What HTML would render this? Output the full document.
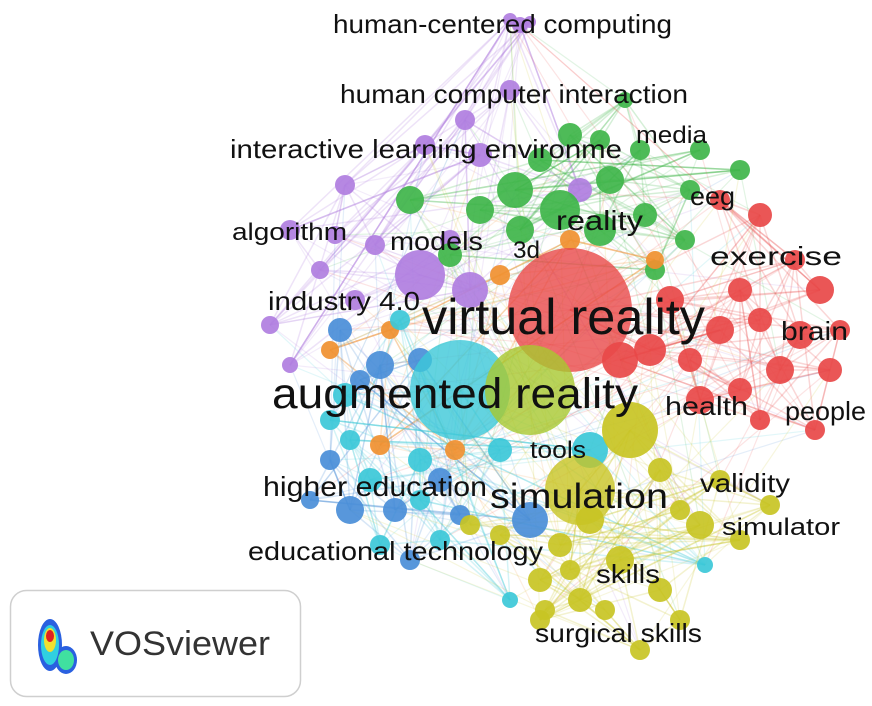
<!DOCTYPE html>
<html><head><meta charset="utf-8"><style>
html,body{margin:0;padding:0;background:#fff;}
svg{display:block;}
text{font-family:"Liberation Sans",sans-serif;fill:#111;}
</style></head><body>
<svg id="s" width="872" height="706" viewBox="0 0 872 706" xmlns="http://www.w3.org/2000/svg">
<g id="edges"></g><g id="nodes"></g>
<g id="labels">
<text x="333" y="33" font-size="26" textLength="339" lengthAdjust="spacingAndGlyphs">human-centered computing</text>
<text x="340" y="103" font-size="26" textLength="348" lengthAdjust="spacingAndGlyphs">human computer interaction</text>
<text x="636" y="143" font-size="24" textLength="71" lengthAdjust="spacingAndGlyphs">media</text>
<text x="230" y="158" font-size="26" textLength="392" lengthAdjust="spacingAndGlyphs">interactive learning environme</text>
<text x="690" y="205" font-size="26" textLength="45" lengthAdjust="spacingAndGlyphs">eeg</text>
<text x="556" y="230" font-size="28" textLength="87" lengthAdjust="spacingAndGlyphs">reality</text>
<text x="232" y="240" font-size="24" textLength="115" lengthAdjust="spacingAndGlyphs">algorithm</text>
<text x="390" y="250" font-size="26" textLength="93" lengthAdjust="spacingAndGlyphs">models</text>
<text x="513" y="258" font-size="24" textLength="27" lengthAdjust="spacingAndGlyphs">3d</text>
<text x="710" y="265" font-size="26" textLength="132" lengthAdjust="spacingAndGlyphs">exercise</text>
<text x="268" y="310" font-size="26" textLength="152" lengthAdjust="spacingAndGlyphs">industry 4.0</text>
<text x="422" y="334" font-size="50" textLength="283" lengthAdjust="spacingAndGlyphs">virtual reality</text>
<text x="781" y="340" font-size="26" textLength="67" lengthAdjust="spacingAndGlyphs">brain</text>
<text x="272" y="408" font-size="43" textLength="366" lengthAdjust="spacingAndGlyphs">augmented reality</text>
<text x="665" y="415" font-size="26" textLength="83" lengthAdjust="spacingAndGlyphs">health</text>
<text x="785" y="420" font-size="26" textLength="81" lengthAdjust="spacingAndGlyphs">people</text>
<text x="530" y="458" font-size="24" textLength="56" lengthAdjust="spacingAndGlyphs">tools</text>
<text x="263" y="496" font-size="28" textLength="224" lengthAdjust="spacingAndGlyphs">higher education</text>
<text x="490" y="508" font-size="35" textLength="178" lengthAdjust="spacingAndGlyphs">simulation</text>
<text x="700" y="492" font-size="26" textLength="90" lengthAdjust="spacingAndGlyphs">validity</text>
<text x="722" y="535" font-size="24" textLength="118" lengthAdjust="spacingAndGlyphs">simulator</text>
<text x="248" y="560" font-size="26" textLength="295" lengthAdjust="spacingAndGlyphs">educational technology</text>
<text x="596" y="583" font-size="26" textLength="64" lengthAdjust="spacingAndGlyphs">skills</text>
<text x="535" y="642" font-size="26" textLength="167" lengthAdjust="spacingAndGlyphs">surgical skills</text>
</g>
<rect x="10.5" y="590.5" width="290" height="106" rx="16" fill="#fff" stroke="#cfcfcf" stroke-width="1.5"/>
<g>
<ellipse cx="50" cy="645" rx="12" ry="26" fill="#2a60e0"/>
<ellipse cx="66" cy="660" rx="11" ry="14" fill="#2a60e0"/>
<ellipse cx="50" cy="645" rx="9" ry="20" fill="#30d0e0"/>
<ellipse cx="66" cy="660" rx="8" ry="10" fill="#40e0a0"/>
<ellipse cx="50" cy="640" rx="6" ry="12" fill="#f0e030"/>
<ellipse cx="50" cy="636" rx="4" ry="6" fill="#e02020"/>
</g>
<text x="90" y="655" font-size="34" textLength="180" lengthAdjust="spacingAndGlyphs" style="fill:#333">VOSviewer</text>
</svg>
<script>
var C={p:"#b07ee0",g:"#3fb54a",r:"#e84848",o:"#f09030",c:"#3cc8d8",b:"#4a8ed8",y:"#c8c424",l:"#a8c830"};
var N={
p:[[520,25,8],[510,20,7],[530,22,6],[510,90,10],[465,120,10],[425,145,10],[480,155,12],[345,185,10],[290,230,10],[335,235,9],[375,245,10],[420,275,25],[470,290,18],[270,325,9],[290,365,8],[320,270,9],[355,300,10],[580,190,12],[450,240,10]],
g:[[625,100,8],[570,135,12],[600,140,10],[540,160,12],[515,190,18],[560,210,20],[610,180,14],[640,150,10],[410,200,14],[480,210,14],[600,230,16],[645,215,12],[690,190,10],[740,170,10],[655,270,10],[450,255,12],[520,230,14],[685,240,10],[700,150,10]],
r:[[760,215,12],[720,200,10],[795,260,10],[820,290,14],[800,335,14],[760,320,12],[720,330,14],[690,360,12],[650,350,16],[620,360,18],[780,370,14],[830,370,12],[740,390,12],[700,400,14],[815,430,10],[760,420,10],[670,300,14],[740,290,12],[840,330,10],[570,310,62]],
o:[[655,260,9],[570,240,10],[500,275,10],[330,350,9],[380,445,10],[455,450,10],[390,330,9]],
b:[[380,365,14],[340,330,12],[420,360,12],[310,500,9],[330,460,10],[350,510,14],[395,510,12],[410,560,10],[460,515,10],[530,520,18],[440,480,12],[360,380,10]],
c:[[400,320,10],[330,420,10],[350,440,10],[370,480,12],[420,460,12],[420,500,10],[440,540,10],[380,545,10],[500,450,12],[510,600,8],[705,565,8],[590,450,18],[345,395,12],[460,390,50]],
y:[[630,430,28],[620,560,14],[560,545,12],[590,520,14],[570,570,10],[540,580,12],[580,600,12],[605,610,10],[545,610,10],[640,650,10],[680,620,10],[660,590,12],[700,525,14],[720,480,10],[770,505,10],[740,540,10],[660,470,12],[680,510,10],[540,620,10],[470,525,10],[500,535,10],[580,490,35]],
l:[[530,390,45]]};
var seed=7;function rnd(){seed=(seed*16807)%2147483647;return seed/2147483647;}
var E="",V="",all=[];
for(var k in N)N[k].forEach(function(n){all.push([n,k]);});
for(var k in N){var a=N[k];a.forEach(function(n){for(var i=0;i<4;i++){var m=a[Math.floor(rnd()*a.length)];E+='<line x1="'+n[0]+'" y1="'+n[1]+'" x2="'+m[0]+'" y2="'+m[1]+'" stroke="'+C[k]+'" stroke-opacity="0.22" stroke-width="1.5"/>';}
for(var i=0;i<2;i++){var m=all[Math.floor(rnd()*all.length)][0];E+='<line x1="'+n[0]+'" y1="'+n[1]+'" x2="'+m[0]+'" y2="'+m[1]+'" stroke="'+C[k]+'" stroke-opacity="0.15" stroke-width="1.2"/>';}});}
var order=["p","g","o","r","b","c","y","l"];
order.forEach(function(k){N[k].forEach(function(n){V+='<circle cx="'+n[0]+'" cy="'+n[1]+'" r="'+n[2]+'" fill="'+C[k]+'" fill-opacity="'+(n[2]>30?0.8:0.92)+'"/>';});});
document.getElementById("edges").innerHTML=E;
document.getElementById("nodes").innerHTML=V;
</script>
</body></html>
